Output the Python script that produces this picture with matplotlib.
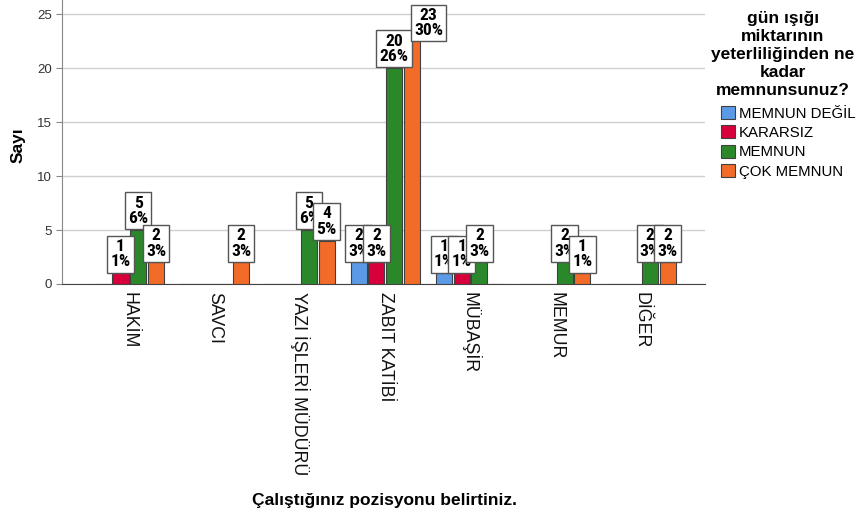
import matplotlib
matplotlib.use("Agg")
import matplotlib.pyplot as plt
from matplotlib.patches import Patch
from matplotlib import font_manager
from matplotlib.font_manager import FontProperties
import numpy as np
import os

categories = ["HAKİM", "SAVCI", "YAZI İŞLERİ MÜDÜRÜ", "ZABIT KATİBİ", "MÜBAŞİR", "MEMUR", "DİĞER"]
series_names = ["MEMNUN DEĞİL", "KARARSIZ", "MEMNUN", "ÇOK MEMNUN"]
memnun_degil = [0, 0, 0, 2, 1, 0, 0]
kararsiz = [1, 0, 0, 2, 1, 0, 0]
memnun = [5, 0, 5, 20, 2, 2, 2]
cok_memnun = [2, 2, 4, 23, 0, 1, 2]
colors = ["#5b9ae6", "#d8003a", "#2a872a", "#f26b28"]
legend_title = "gün ışığı\nmiktarının\nyeterliliğinden ne\nkadar\nmemnunsunuz?"
xlabel = "Çalıştığınız pozisyonu belirtiniz."
ylabel = "Sayı"

series = [memnun_degil, kararsiz, memnun, cok_memnun]
total = sum(sum(s) for s in series)

plt.rcParams['font.family'] = ['Liberation Sans', 'DejaVu Sans']

# look for a narrow/condensed bold upright face for the value labels
files = set(font_manager.findSystemFonts()) | {f.fname for f in font_manager.fontManager.ttflist}
by_base = {os.path.basename(f): f for f in files}
prefs = [("LiberationSansNarrow-Bold.ttf", 12.5, 0.95, 0.14),
         ("RobotoCondensed-Bold.ttf", 12.0, 0.95, 0.14),
         ("OpenSans-CondensedBold.ttf", 11.5, 0.9, 0.14),
         ("OpenSans_Condensed-Bold.ttf", 11.5, 0.9, 0.14),
         ("NotoSans-CondensedBold.ttf", 11.5, 0.9, 0.14),
         ("DejaVuSansCondensed-Bold.ttf", 10.5, 1.1, 0.22)]
label_fp = None
for base, sz, lsp, pd in prefs:
    if base in by_base:
        size, ls, pad = sz * 1.05, lsp + 0.1, pd + 0.04
        label_fp = FontProperties(fname=by_base[base], size=size)
        break
if label_fp is None:
    size, ls, pad = 10, 1.15, 0.2
    label_fp = FontProperties(family=['Liberation Sans', 'DejaVu Sans'], weight='bold', size=size)

YMAX = 26.3
LABEL_ROOM = 3.9  # keep label boxes inside the plot area (data units)

fig = plt.figure(figsize=(8.59, 5.19), dpi=100)
ax = fig.add_axes([62/859, 1 - 284/519, (705-62)/859, 284/519])

x = np.arange(len(categories))
step = 0.208
width = 0.188
for i, (vals, col) in enumerate(zip(series, colors)):
    pos = x + (i - 1.5) * step
    ax.bar(pos, vals, width=width, color=col, edgecolor="#404040", linewidth=0.8, zorder=3)
for i, vals in enumerate(series):
    pos = x + (i - 1.5) * step
    for p, v in zip(pos, vals):
        if v > 0:
            pct = int(round(v / total * 100))
            clamped = v > YMAX - LABEL_ROOM
            anchor = min(v, YMAX - LABEL_ROOM)
            dx = 12 if clamped else 0  # pushed aside when lowered, as in SPSS
            ax.annotate(f"{v}\n{pct}%", xy=(p, anchor), xytext=(dx, pad * size + 0.5),
                        textcoords="offset points",
                        ha="center", va="bottom", fontproperties=label_fp,
                        linespacing=ls, zorder=5 + i,
                        bbox=dict(boxstyle=f"square,pad={pad}", fc="white", ec="#555555", lw=1.0))

ax.set_xlim(-0.79, 6.75)
ax.set_ylim(0, YMAX)
ax.set_yticks([0, 5, 10, 15, 20, 25])
ax.yaxis.grid(True, color="#d0d0d0", linewidth=1.0, zorder=0)
ax.set_axisbelow(True)
for s in ["top", "right"]:
    ax.spines[s].set_visible(False)
ax.spines["left"].set_color("#888888")
ax.spines["bottom"].set_color("#444444")
ax.tick_params(axis="y", labelsize=9.5, colors="#888888", labelcolor="#333333", length=4)
ax.set_xticks(x)
ax.set_xticklabels(categories, rotation=270, fontsize=12.8, va="top", ha="center", color="#111111")
ax.tick_params(axis="x", length=0, pad=6)

fig.text(18/859, 1 - 145/519, ylabel, rotation=90, fontsize=12.5, fontweight="bold", ha="center", va="center")
fig.text(384/859, 1 - 500/519, xlabel, fontsize=12.5, fontweight="bold", ha="center", va="center")

fig.text(783/859, 1 - 11/519, legend_title, fontsize=12.5, fontweight="bold", ha="center", va="top", linespacing=1.25)
handles = [Patch(facecolor=c, edgecolor="#404040", linewidth=0.8) for c in colors]
leg = fig.legend(handles, series_names, loc="upper left", bbox_to_anchor=(721/859, 1 - 106/519),
                 frameon=False, fontsize=10.8, handlelength=0.95, handleheight=0.95,
                 handletextpad=0.25, labelspacing=0.32, borderpad=0, borderaxespad=0)

fig.savefig("out.png", dpi=100)
